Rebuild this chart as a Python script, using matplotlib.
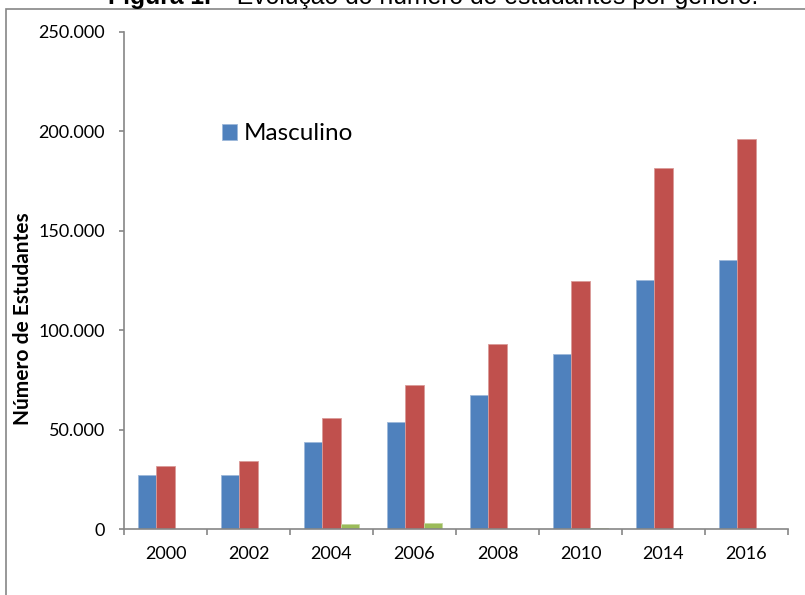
import numpy as np
import matplotlib
matplotlib.use("Agg")
import matplotlib.pyplot as plt
from matplotlib.patches import Rectangle
from matplotlib.ticker import FuncFormatter

# valores
anos = ["2000", "2002", "2004", "2006", "2008", "2010", "2014", "2016"]
masculino = [27400, 27400, 44000, 53700, 67200, 88200, 125100, 135200]
feminino = [31500, 34400, 55900, 72200, 93200, 124600, 181500, 196100]
outros = [0, 0, 2600, 2800, 0, 400, 0, 0]
yticks = [0, 50000, 100000, 150000, 200000, 250000]

azul = "#4F81BD"
vermelho = "#C0504D"
verde = "#9BBB59"
cinza = "#868686"

plt.rcParams["font.family"] = ["Lato", "DejaVu Sans"]

fig = plt.figure(figsize=(8.05, 5.95), dpi=100)
ax = fig.add_axes([124 / 805, 1 - 529 / 595, (788 - 124) / 805, (529 - 32) / 595])

x = np.arange(len(anos)) + 0.5
w = 0.217
b1 = ax.bar(x - w, masculino, w, color=azul, edgecolor="#9DB8DA", linewidth=0.6)
ax.bar(x, feminino, w, color=vermelho, edgecolor="#DA9A98", linewidth=0.6)
ax.bar(x + w, outros, w, color=verde, edgecolor="#C4D8A0", linewidth=0.6)

ax.set_xlim(0, len(anos))
ax.set_ylim(0, 250000)
ax.set_xticks(x)
ax.set_xticklabels(anos)
ax.set_xticks(np.arange(len(anos) + 1), minor=True)
ax.tick_params(axis="x", which="major", length=0, pad=12, labelsize=13)
ax.tick_params(axis="x", which="minor", length=4.5, width=1.2, color=cinza, direction="out")
ax.set_yticks(yticks)
ax.yaxis.set_major_formatter(FuncFormatter(lambda v, p: f"{int(v):,}".replace(",", ".")))
ax.tick_params(axis="y", length=3.8, width=1.2, color=cinza, pad=10, labelsize=13)

for s in ["top", "right"]:
    ax.spines[s].set_visible(False)
for s in ["left", "bottom"]:
    ax.spines[s].set_color(cinza)
    ax.spines[s].set_linewidth(1.2)

fig.text(23 / 805, 1 - 319 / 595, "Número de Estudantes", rotation=90, ha="center", va="center",
         fontsize=15, fontweight="bold")

leg = ax.legend([b1], ["Masculino"], loc="center left", bbox_to_anchor=(212 / 805, 1 - 134 / 595),
                bbox_transform=fig.transFigure, frameon=False, fontsize=17.5,
                handlelength=0.62, handleheight=0.62, handletextpad=0.3, borderaxespad=0)

# moldura exterior
fig.patches.append(Rectangle((6 / 805, -0.05), 1.1, 1 - 9 / 595 + 0.05, transform=fig.transFigure,
                             fill=False, edgecolor=cinza, linewidth=1.2))

# título (cortado no topo da imagem)
t1 = fig.text(108 / 805, 1 - 4 / 595, "Figura 1.", fontsize=17.8, fontweight="bold",
              family="Liberation Sans", va="baseline")
fig.canvas.draw()
bb = t1.get_window_extent()
fig.text(bb.x1 / 805 + 5 / 805, 1 - 4 / 595, "\u2013 Evolução do número de estudantes por género.",
         fontsize=17.8, family="Liberation Sans", va="baseline")

fig.savefig("out.png", dpi=100)
